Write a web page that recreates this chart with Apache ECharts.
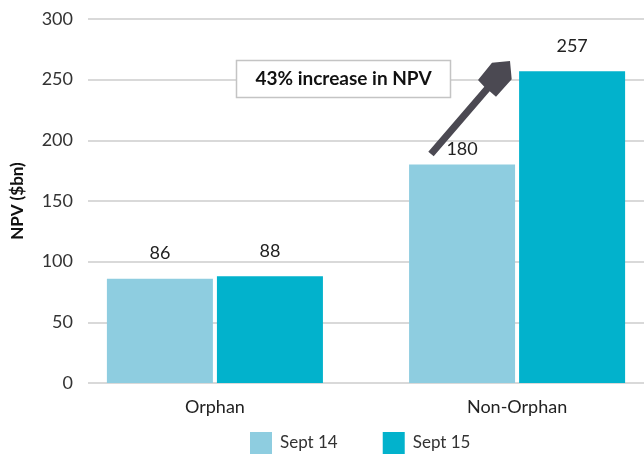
<!DOCTYPE html>
<html>
<head>
<meta charset="utf-8">
<script src="https://cdn.jsdelivr.net/npm/echarts@6/dist/echarts.min.js"></script>
<style>html,body{margin:0;padding:0;background:#fff;overflow:hidden;}#c{width:644px;height:457px;}</style>
</head>
<body>
<div id="c"></div>
<script>
const categories = ['Orphan', 'Non-Orphan'];
const seriesNames = ['Sept 14', 'Sept 15'];
const sept14 = [86, 180];
const sept15 = [88, 257];
const yTicks = [0, 50, 100, 150, 200, 250, 300];
const annotationText = '43% increase in NPV';

const FONT = 'Lato, "Open Sans", sans-serif';
const chart = echarts.init(document.getElementById('c'), null, {renderer: 'canvas'});

const labelBase = {show: true, position: 'top', distance: 16, fontSize: 18, color: '#222', fontFamily: FONT};
const catIdx = categories.map((c, i) => i);

const sept14Data = sept14.map((v, i) => i === 1 ? {value: [i, v], label: {distance: 6}} : [i, v]);
const sept15Data = sept15.map((v, i) => [i, v]);

chart.setOption({
  animation: false,
  backgroundColor: '#fff',
  textStyle: {fontFamily: FONT},
  grid: [{left: 88, right: 0, top: 19, bottom: 74}],
  xAxis: [
    {type: 'value', min: -0.42, max: 1.42,
     axisLine: {show: false}, axisTick: {show: false}, splitLine: {show: false},
     axisLabel: {customValues: catIdx, formatter: v => categories[Math.round(v)] || '',
                 fontSize: 18, color: '#222', margin: 15, fontFamily: FONT}}
  ],
  yAxis: [
    {type: 'value', min: yTicks[0], max: yTicks[yTicks.length - 1], interval: 50,
     axisLine: {show: false}, axisTick: {show: false},
     axisLabel: {fontSize: 18, color: '#333', margin: 15, fontFamily: FONT},
     splitLine: {show: true, lineStyle: {color: '#cccccc', width: 1.5}},
     name: 'NPV ($bn)', nameLocation: 'middle', nameGap: 62,
     nameTextStyle: {fontSize: 17, fontWeight: 'bold', color: '#111', fontFamily: FONT}}
  ],
  legend: {
    data: seriesNames, left: 250, top: 432, padding: 0, itemWidth: 22, itemHeight: 22, itemGap: 45,
    selectedMode: false, icon: 'rect',
    textStyle: {fontSize: 17, color: '#333', fontFamily: FONT, padding: [0, 0, 0, 3]}
  },
  series: [
    {name: seriesNames[0], type: 'bar', data: sept14Data,
     barWidth: 106, barGap: '3.8%', itemStyle: {color: '#8ecde0'}, label: labelBase},
    {name: seriesNames[1], type: 'bar', data: sept15Data,
     barWidth: 106, barGap: '3.8%', itemStyle: {color: '#02b2cc'}, label: labelBase}
  ],
  graphic: [
    {type: 'rect', z: 100, shape: {x: 236.5, y: 60.5, width: 214, height: 37},
     style: {fill: '#fff', stroke: '#c4c4c4', lineWidth: 1.5}},
    {type: 'text', z: 101, x: 343.5, y: 79,
     style: {text: annotationText, fill: '#111', font: 'bold 19px ' + FONT, align: 'center', verticalAlign: 'middle'}},
    {type: 'polygon', z: 100,
     shape: {points: [[428.3, 151.7], [484.3, 86.7], [478, 80], [492, 62.7], [510, 61], [511.7, 79.3], [496, 96.7], [489.7, 91.3], [433.7, 156.3]]},
     style: {fill: '#4b4952'}}
  ]
});
</script>
</body>
</html>
